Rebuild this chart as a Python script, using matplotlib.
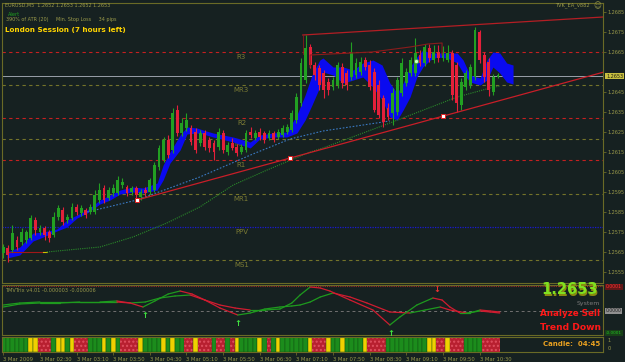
import matplotlib
matplotlib.use("Agg")
import matplotlib.pyplot as plt
import matplotlib.transforms as mtrans
import numpy as np

# ---------------- data ----------------
opens = [1.25645, 1.2567, 1.2566, 1.2571, 1.2570, 1.2571, 1.2572, 1.2581, 1.2575, 1.2577,
         1.2575, 1.25735, 1.25825, 1.2586, 1.2581, 1.2582, 1.25875, 1.25845, 1.2586, 1.2585,
         1.2585, 1.2591, 1.2597, 1.2592, 1.25945, 1.25945, 1.25985, 1.25975, 1.2595, 1.2597,
         1.25925, 1.2596, 1.2595, 1.2596, 1.26075, 1.2611, 1.2621, 1.2616, 1.2636, 1.26245,
         1.2627, 1.2627, 1.2625, 1.26195, 1.26245, 1.2621, 1.26195, 1.26175, 1.26245, 1.2615,
         1.26195, 1.26175, 1.2615, 1.2616, 1.2625, 1.2622, 1.2625, 1.26245, 1.2622, 1.26245,
         1.26225, 1.26235, 1.2625, 1.2626, 1.2631, 1.26395, 1.2651, 1.26675, 1.26585, 1.2657,
         1.26545, 1.2650, 1.26475, 1.26485, 1.26575, 1.26545, 1.26525, 1.26535, 1.2655, 1.2661,
         1.26585, 1.2655, 1.26485, 1.2642, 1.2637, 1.26345, 1.2635, 1.26445, 1.26495, 1.26545,
         1.26545, 1.26635, 1.26595, 1.2667, 1.2661, 1.2665, 1.2662, 1.2661, 1.26645, 1.26585,
         1.26385, 1.26475, 1.26485, 1.26525, 1.2675, 1.26635, 1.2660, 1.2645, 1.26525]
closes = [1.25675, 1.25635, 1.25745, 1.25675, 1.2575, 1.2575, 1.2582, 1.2576, 1.2577, 1.25735,
          1.2572, 1.25825, 1.2587, 1.2580, 1.25825, 1.25875, 1.2585, 1.2587, 1.25835, 1.25875,
          1.25935, 1.2596, 1.2591, 1.2596, 1.2597, 1.2601, 1.2600, 1.25945, 1.2597, 1.25935,
          1.2595, 1.25945, 1.2601, 1.26085, 1.2617, 1.2621, 1.26135, 1.26345, 1.26245, 1.26295,
          1.2631, 1.2620, 1.2616, 1.26245, 1.26175, 1.2617, 1.2615, 1.2625, 1.2616, 1.26185,
          1.2617, 1.26145, 1.26175, 1.26245, 1.26235, 1.26245, 1.26225, 1.2621, 1.26245, 1.2621,
          1.2625, 1.2627, 1.26275, 1.26345, 1.26425, 1.26595, 1.2667, 1.26585, 1.26535, 1.26485,
          1.2646, 1.2646, 1.2651, 1.26585, 1.26495, 1.26485, 1.26645, 1.26595, 1.2660, 1.26575,
          1.26475, 1.2636, 1.26335, 1.2630, 1.26325, 1.26445, 1.2651, 1.26595, 1.2655, 1.2661,
          1.26645, 1.26595, 1.26675, 1.2662, 1.2665, 1.2662, 1.26645, 1.26645, 1.26435, 1.26395,
          1.2650, 1.26545, 1.26575, 1.2676, 1.2661, 1.26525, 1.2646, 1.26525, 1.26535]
highs = [1.2569, 1.25685, 1.25785, 1.2573, 1.2577, 1.2576, 1.25835, 1.25825, 1.25785, 1.2578,
         1.2576, 1.2585, 1.25885, 1.25875, 1.2584, 1.25895, 1.2589, 1.25885, 1.2587, 1.2589,
         1.2596, 1.25995, 1.25985, 1.25975, 1.2599, 1.2603, 1.2602, 1.25985, 1.2598, 1.2598,
         1.25965, 1.25975, 1.2602, 1.2610, 1.26185, 1.26225, 1.26235, 1.2637, 1.26385, 1.2632,
         1.26345, 1.26285, 1.2627, 1.2626, 1.2626, 1.26225, 1.2621, 1.2627, 1.2626, 1.2620,
         1.2622, 1.2619, 1.2619, 1.2626, 1.26275, 1.2626, 1.2627, 1.26255, 1.2626, 1.26255,
         1.26265, 1.26285, 1.2629, 1.2636, 1.26445, 1.2662, 1.26735, 1.2669, 1.2660, 1.26585,
         1.2656, 1.2652, 1.26525, 1.2660, 1.26595, 1.2656, 1.2670, 1.2662, 1.26625, 1.26625,
         1.2661, 1.2657, 1.2651, 1.26435, 1.26395, 1.2647, 1.26525, 1.2662, 1.2657, 1.26625,
         1.2672, 1.2666, 1.2669, 1.2669, 1.26685, 1.26685, 1.2668, 1.26685, 1.2666, 1.2660,
         1.2652, 1.2656, 1.2659, 1.26775, 1.2676, 1.2665, 1.2662, 1.2654, 1.26545]
lows = [1.2562, 1.2560, 1.2565, 1.2566, 1.25685, 1.25695, 1.2571, 1.25735, 1.25735, 1.2571,
        1.2570, 1.25725, 1.2581, 1.25785, 1.25795, 1.2581, 1.25835, 1.2583, 1.2582, 1.2584,
        1.2584, 1.25895, 1.25895, 1.2591, 1.2593, 1.25935, 1.2597, 1.2593, 1.25935, 1.2592,
        1.2591, 1.2593, 1.2594, 1.2595, 1.2606, 1.2610, 1.2612, 1.26145, 1.2623, 1.2623,
        1.26255, 1.26185, 1.26145, 1.2618, 1.2616, 1.2615, 1.2611, 1.2616, 1.26145, 1.26135,
        1.2616, 1.2613, 1.2614, 1.2615, 1.2622, 1.2621, 1.2621, 1.26195, 1.2621, 1.2620,
        1.26215, 1.26225, 1.2624, 1.2625, 1.26295, 1.2638, 1.26495, 1.2657, 1.2651, 1.2646,
        1.2642, 1.26435, 1.2646, 1.2647, 1.2647, 1.2646, 1.2651, 1.2652, 1.26535, 1.2656,
        1.2646, 1.2635, 1.2632, 1.26275, 1.2631, 1.26285, 1.26335, 1.2643, 1.2648, 1.2653,
        1.2653, 1.2658, 1.2658, 1.2660, 1.26595, 1.2660, 1.26605, 1.2660, 1.2641, 1.2635,
        1.2636, 1.2646, 1.2647, 1.2651, 1.26595, 1.2650, 1.2643, 1.26435, 1.2652]

# blue band (cloud) nodes
cloud_x = [0.8, 3.6, 6.5, 8.7, 11.7, 13.9, 16.1, 18.3, 21.1, 23.3, 25.5, 28.3, 30.5, 33.6, 34.9,
           36.4, 38.6, 40.1, 42.3, 43.6, 45.8, 50.2, 53.9, 56.0, 58.9, 61.9, 64.1, 65.9, 67.4,
           69.1, 69.8, 72.0, 74.2, 76.4, 78.5, 80.7, 82.7, 84.4, 86.0, 87.3, 88.8, 90.3, 91.6,
           93.2, 94.7, 96.9, 99.1, 100.4, 101.9, 104.1, 105.6, 106.9, 108.4, 109.9, 111.3]
cloud_top = [1.2565, 1.25675, 1.25745, 1.2575, 1.25765, 1.2581, 1.25835, 1.2586, 1.2591, 1.25935,
             1.2596, 1.25975, 1.2597, 1.25995, 1.26085, 1.2615, 1.26235, 1.26275, 1.2627, 1.2626,
             1.26245, 1.26225, 1.2620, 1.26235, 1.26245, 1.2625, 1.26335, 1.26435, 1.26535,
             1.2661, 1.2662, 1.26575, 1.26575, 1.2656, 1.26595, 1.2661, 1.26585, 1.26495, 1.26445,
             1.26495, 1.26575, 1.26625, 1.2666, 1.26645, 1.26645, 1.26645, 1.26645, 1.2661,
             1.26535, 1.2652, 1.2661, 1.2665, 1.26645, 1.26595, 1.26585]
cloud_bot = [1.2562, 1.25635, 1.25705, 1.25725, 1.25755, 1.25775, 1.2582, 1.25845, 1.2589, 1.2591,
             1.2594, 1.2595, 1.25945, 1.2596, 1.2601, 1.26095, 1.2616, 1.2624, 1.26245, 1.2624,
             1.26225, 1.2620, 1.2617, 1.26215, 1.26225, 1.26225, 1.26245, 1.2631, 1.26385,
             1.26475, 1.2655, 1.26535, 1.26495, 1.2651, 1.26525, 1.26475, 1.2641, 1.26325, 1.2631,
             1.2636, 1.26425, 1.26525, 1.26575, 1.2661, 1.26625, 1.2662, 1.26595, 1.26545,
             1.2650, 1.26485, 1.2651, 1.26575, 1.26545, 1.2650, 1.2649]

# moving averages (dotted)
ma_blue_x = [18.3, 29.2, 42.9, 54.5, 62.6, 69.8, 84.4]
ma_blue_y = [1.2585, 1.2591, 1.26025, 1.2614, 1.26215, 1.26255, 1.26305]
ma_green_x = [9.5, 21.1, 28.3, 35.7, 42.9, 50.2, 57.6, 67.0, 69.8, 84.4, 99.1, 106.3, 108.4]
ma_green_y = [1.2565, 1.25675, 1.25725, 1.25795, 1.25875, 1.25985, 1.2606, 1.2615, 1.2617,
              1.26295, 1.26425, 1.2647, 1.2648]
ma_start_x = [0.8, 8.7]
ma_start_y = [1.2565, 1.2565]

# pivot levels
pivot_names = ["R3", "MR3", "R2", "MR2", "R1", "MR1", "PPV", "MS1"]
pivot_values = [1.2665, 1.26485, 1.2632, 1.26215, 1.2611, 1.2594, 1.25775, 1.2561]
current_price = 1.2653

# trend lines
lower_tl_x = [29.2, 131.0]
lower_tl_y = [1.2591, 1.26549]
upper_tl_x = [65.4, 131.0]
upper_tl_y = [1.26735, 1.26825]
fractal_x = [29.2, 62.6, 96.0]
fractal_y = [1.2591, 1.2612, 1.2633]
zig_x = [67.0, 67.0, 80.5, 88.8, 92.7, 95.8, 95.8]
zig_y = [1.26575, 1.26635, 1.2665, 1.26675, 1.2669, 1.26695, 1.26635]

# TMVTrix indicator (units of 1e-6)
trix_fast_x = [0, 3.6, 8.0, 12.4, 16.7, 21.1, 24.8, 27.7, 30.5, 33.1, 36.0, 38.6, 41.2, 44.0,
               47.3, 50.6, 53.9, 57.1, 60.4, 63.0, 64.8, 67.0, 69.2, 71.3, 75.7, 80.7, 84.4,
               86.6, 90.3, 93.8, 95.8, 97.5, 99.7, 101.9, 104.1, 106.3, 108.4]
trix_fast = [18, 24, 27, 27, 27, 27, 30, 24, 12, 30, 51, 60, 51, 33, 18, 9, 3, 3, 6, 24, 48, 72,
             69, 60, 33, 3, -42, -18, 18, 39, 33, 12, -6, -6, 3, 0, -3]
trix_slow_x = [0, 3.6, 8.0, 12.4, 16.7, 21.1, 24.8, 27.7, 31.0, 34.2, 37.5, 40.8, 44.0, 47.3,
               51.2, 53.9, 57.1, 60.4, 63.0, 64.8, 67.0, 69.2, 72.0, 75.7, 79.4, 84.4, 88.8,
               92.1, 95.4, 97.5, 101.2, 104.1, 106.3, 108.4]
trix_slow = [12, 21, 24, 24, 27, 27, 27, 24, 27, 39, 45, 48, 33, 9, -12, -6, 6, 12, 15, 18, 27,
             42, 54, 42, 24, -3, -6, 3, 12, 3, -6, 0, -3, -6]
up_arrows_x = [31.0, 51.2, 84.7]
up_arrows_y = [-15, -36, -66]
down_arrows_x = [94.7]
down_arrows_y = [63]

# trend band colours per bar
trend_codes = ("gggggg" "yy" "rrr" "g" "yy" "g" "y" "rrr" "ggg" "y" "g" "y" "g" "rrrr" "y"
               "gggg" "y" "g" "y" "gg" "rr" "y" "rrr" "g" "rr" "g" "r" "y" "gggg" "y" "g" "r"
               "g" "y" "gggggg" "y" "rrr" "y" "gg" "y" "gggg" "y" "rrrr" "ggggggggg" "yy" "rr"
               "y" "rrr" "gggg" "rrrr")

x_label_bars = [0, 8, 16, 24, 32, 40, 48, 56, 64, 72, 80, 88, 96, 104]
x_labels = ["3 Mar 2009", "3 Mar 02:30", "3 Mar 03:10", "3 Mar 03:50", "3 Mar 04:30",
            "3 Mar 05:10", "3 Mar 05:50", "3 Mar 06:30", "3 Mar 07:10", "3 Mar 07:50",
            "3 Mar 08:30", "3 Mar 09:10", "3 Mar 09:50", "3 Mar 10:30"]
price_ticks = [1.2555, 1.2565, 1.2575, 1.2585, 1.2595, 1.2605, 1.2615, 1.2625, 1.2635,
               1.2645, 1.2665, 1.2675, 1.2685]

# ---------------- style ----------------
BG = '#162121'
OLIVE = '#6a6a26'
TXT = '#9a9a4a'
BULL = '#22a022'
BEAR = '#e4203a'
W, H = 625, 362

fig = plt.figure(figsize=(W / 100, H / 100), dpi=100, facecolor=BG)


def rect(x0, y0, x1, y1):
    return [x0 / W, 1 - y1 / H, (x1 - x0) / W, (y1 - y0) / H]


def ftext(x, y, s, **kw):
    fig.text(x / W, 1 - y / H, s, **kw)


ax = fig.add_axes(rect(2, 3, 603, 283))
axi = fig.add_axes(rect(2, 285, 603, 335))
axb = fig.add_axes(rect(2, 337, 603, 352))
for a in (ax, axi, axb):
    a.set_facecolor(BG)
    for s in a.spines.values():
        s.set_color(OLIVE)
        s.set_linewidth(0.8)
    a.set_xlim(-0.284, 130.94)

# ---------------- main panel ----------------
ax.set_ylim(1.25495, 1.26895)
ax.yaxis.tick_right()
ax.set_yticks(price_ticks)
ax.set_yticklabels([f"{p:.4f}" for p in price_ticks])
ax.tick_params(axis='y', colors=OLIVE, labelcolor=TXT, labelsize=3.5, length=2, width=0.6, pad=1)
ax.set_xticks([])

for name, val in zip(pivot_names, pivot_values):
    if name.startswith('R'):
        ax.axhline(val, color='#c42020', lw=0.8, ls=(0, (3, 3)), zorder=1)
    elif name == 'PPV':
        ax.axhline(val, color='#1a1ad0', lw=0.9, ls=(0, (1, 1)), zorder=1)
    else:
        ax.axhline(val, color='#74742a', lw=0.8, ls=(0, (3, 3)), zorder=1)
    ax.text(52, val - 0.00027, name, ha='center', va='center', color='#7c7c34', fontsize=5, zorder=2)

ax.axhline(current_price, color='#9aa0aa', lw=0.7, zorder=2)

ax.fill_between(cloud_x, cloud_bot, cloud_top, color='#0a0af0', lw=0, zorder=3)

ax.plot(ma_start_x, ma_start_y, color='#a01818', lw=0.8, zorder=3)
ax.plot([8.7, 9.5], [1.2565, 1.2565], color='#d0c000', lw=0.8, zorder=3)
ax.plot(ma_green_x, ma_green_y, color='#2a8a2a', lw=0.8, ls=(0, (1, 1)), zorder=3)
ax.plot(ma_blue_x, ma_blue_y, color='#3a78c0', lw=0.8, ls=(0, (1.5, 1.5)), zorder=3)

idx = np.arange(len(opens))
o = np.array(opens)
c = np.array(closes)
colors = np.where(c >= o, BULL, BEAR)
ax.vlines(idx, lows, highs, colors=colors, lw=0.8, zorder=4)
body = np.maximum(np.abs(c - o), 0.00004)
ax.bar(idx, body, bottom=np.minimum(o, c), width=0.62, color=colors, lw=0, zorder=5)

ax.plot(lower_tl_x, lower_tl_y, color='#c81e28', lw=0.9, zorder=6)
ax.plot(upper_tl_x, upper_tl_y, color='#b41e24', lw=0.9, zorder=6)
ax.plot([65.4, 65.4], [1.26735, 1.2664], color='#8a1a1a', lw=0.6, zorder=6)
ax.plot(zig_x, zig_y, color='#8a1c1c', lw=0.8, zorder=6)
ax.plot(fractal_x, fractal_y, ls='none', marker='s', ms=2.6, mfc='white', mec='#e02020', mew=0.7, zorder=7)
ax.plot([90.1], [1.26605], ls='none', marker='o', ms=3, mfc='#c8ffc8', mec='#40a040', mew=0.6, zorder=7)

btr = mtrans.blended_transform_factory(ax.transAxes, ax.transData)
ax.text(1.005, current_price, "1.2653", transform=btr, fontsize=3.5, color='#202010', va='center',
        ha='left', bbox=dict(boxstyle='square,pad=0.15', fc='#c8c040', ec='none'), zorder=10, clip_on=False)

# top texts
ftext(5, 5, "EURUSD,M5  1.2652 1.2653 1.2652 1.2653", color=TXT, fontsize=3.5, va='center')
ftext(8, 15, "Alert", color='#20a020', fontsize=3.6, va='center')
ftext(6, 19.5, "390% of ATR (20)     Min. Stop Loss     34 pips", color=TXT, fontsize=3.5, va='center')
ftext(5, 30, "London Session (7 hours left)", color='#ffd400', fontsize=5.2, fontweight='bold', va='center')
ftext(555, 5.5, "TVK_EA_v882", color=TXT, fontsize=3.7, va='center')
ftext(597, 5.5, "\u263A", color=TXT, fontsize=5.5, va='center', ha='center')

# ---------------- indicator panel ----------------
axi.set_ylim(-72, 78)
axi.set_xticks([])
axi.set_yticks([])
axi.axhline(0, color='#707070', lw=0.7, ls=(0, (3, 3)))
axi.axhline(75, color='#a02828', lw=0.8, ls=(0, (1, 1)))


def colored_line(xs, ys):
    for i in range(len(xs) - 1):
        col = '#1e9a1e' if ys[i + 1] >= ys[i] else '#d01c30'
        axi.plot(xs[i:i + 2], [ys[i] * 1.0, ys[i + 1] * 1.0], color=col, lw=0.9, solid_capstyle='round')


colored_line(trix_slow_x, trix_slow)
colored_line(trix_fast_x, trix_fast)
for xa, ya in zip(up_arrows_x, up_arrows_y):
    axi.text(xa, ya, "\u2191", color='#40e040', fontsize=6, fontweight='bold', ha='center', va='center')
for xa, ya in zip(down_arrows_x, down_arrows_y):
    axi.text(xa, ya, "\u2193", color='#f03030', fontsize=6, fontweight='bold', ha='center', va='center')
ftext(5, 290.5, "TMVTrix v4.01 -0.000003 -0.000006", color=TXT, fontsize=3.6, va='center')

itr = mtrans.blended_transform_factory(axi.transAxes, axi.transData)
axi.text(1.005, 72, "0.0001", transform=itr, fontsize=3.3, color='#ff3030', va='center', ha='left',
         bbox=dict(boxstyle='square,pad=0.12', fc='#601818', ec='none'), clip_on=False)
axi.text(1.005, 0, "0.0000", transform=itr, fontsize=3.3, color='#202020', va='center', ha='left',
         bbox=dict(boxstyle='square,pad=0.12', fc='#909090', ec='none'), clip_on=False)
axi.text(1.005, -66, "-0.0001", transform=itr, fontsize=3.1, color='#20c020', va='center', ha='left',
         bbox=dict(boxstyle='square,pad=0.12', fc='#184018', ec='none'), clip_on=False)

# right side system text
ftext(571, 291, "1.2653", color='#8a8a10', fontsize=10.5, fontweight='bold', ha='center', va='center')
ftext(570, 290, "1.2653", color='#80e020', fontsize=10.5, fontweight='bold', ha='center', va='center')
ftext(588, 303, "System", color='#7a7a7a', fontsize=4.5, ha='center', va='center')
ftext(570, 313.5, "Analyze Sell", color='#ff1818', fontsize=6.3, fontweight='bold', ha='center', va='center')
ftext(570, 328, "Trend Down", color='#ff1818', fontsize=6.6, fontweight='bold', ha='center', va='center')
ftext(572, 343.5, "Candle:  04:45", color='#e8a020', fontsize=5.0, fontweight='bold', ha='center', va='center')

# ---------------- trend band ----------------
axb.set_ylim(0, 1)
cmap = {'g': '#1c8c1c', 'y': '#f0d000', 'r': '#b82030'}
band_cols = [cmap[ch] for ch in trend_codes]
bars = axb.bar(np.arange(len(trend_codes)), 1, width=1.0, bottom=0, color=band_cols,
               edgecolor='#0e4a10', lw=0.3)
for b, ch in zip(bars, trend_codes):
    if ch == 'r':
        b.set_hatch('....')
        b.set_edgecolor('#e05060')
        b.set_linewidth(0)
axb.set_yticks([])
axb.set_xticks(x_label_bars)
axb.set_xticklabels(x_labels, ha='left')
axb.tick_params(axis='x', colors=OLIVE, labelcolor=TXT, labelsize=3.8, length=2, width=0.6, pad=1.5)
btb = mtrans.blended_transform_factory(axb.transAxes, axb.transData)
axb.text(1.008, 0.8, "1", transform=btb, fontsize=3.6, color=TXT, va='center', clip_on=False)
axb.text(1.008, 0.25, "0", transform=btb, fontsize=3.6, color=TXT, va='center', clip_on=False)

fig.savefig("out.png", dpi=100, facecolor=BG)
